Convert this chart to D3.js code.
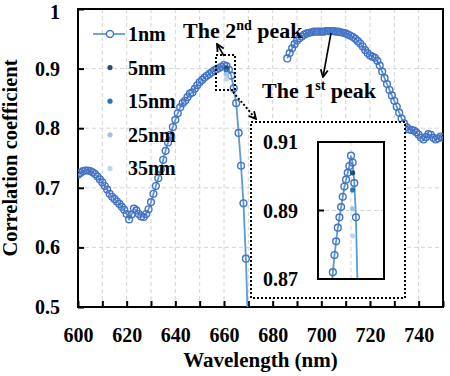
<!DOCTYPE html>
<html>
<head>
<meta charset="utf-8">
<script src="https://cdn.jsdelivr.net/npm/d3@7"></script>
<style>
body { margin: 0; background: #fff; }
text { font-family: "Liberation Serif", "Times New Roman", serif; font-weight: bold; fill: #000; }
</style>
</head>
<body>
<svg width="450" height="376"></svg>
<script>
// 1nm series, 1 nm steps: 600-670 and 686-750 (no data in between)
const leftStart = 600
const leftValues = [0.722, 0.725, 0.728, 0.729, 0.729, 0.728, 0.726, 0.723, 0.719, 0.714,
    0.709, 0.703, 0.697, 0.690, 0.685, 0.681, 0.677, 0.673, 0.668, 0.663,
    0.656, 0.647, 0.655, 0.665, 0.662, 0.656, 0.652, 0.651, 0.656, 0.664,
    0.676, 0.690, 0.703, 0.716, 0.731, 0.747, 0.762, 0.776, 0.789, 0.802,
    0.814, 0.825, 0.835, 0.842, 0.846, 0.852, 0.858, 0.860, 0.866, 0.872,
    0.877, 0.881, 0.885, 0.888, 0.891, 0.894, 0.897, 0.899, 0.901, 0.903,
    0.906, 0.904, 0.898, 0.888, 0.867, 0.842, 0.792, 0.737, 0.674, 0.581,
    0.450]
const rightStart = 686
const rightValues = [0.917, 0.926, 0.934, 0.941, 0.947, 0.951, 0.954, 0.957, 0.959, 0.960,
    0.961, 0.962, 0.962, 0.962, 0.962, 0.962, 0.963, 0.963, 0.963, 0.963,
    0.962, 0.962, 0.961, 0.960, 0.959, 0.957, 0.955, 0.953, 0.950, 0.946,
    0.942, 0.937, 0.931, 0.926, 0.922, 0.920, 0.918, 0.913, 0.905, 0.895,
    0.884, 0.874, 0.864, 0.855, 0.846, 0.836, 0.826, 0.816, 0.808, 0.802,
    0.798, 0.797, 0.796, 0.793, 0.789, 0.784, 0.781, 0.785, 0.790, 0.789,
    0.784, 0.781, 0.783, 0.786, 0.784]

// other resolutions: single 2nd-peak points
const dotSeries = ["5nm", "15nm", "25nm", "35nm"]
const dotWavelength = [661, 661, 661, 661]
const dotValues = [0.901, 0.896, 0.8905, 0.8826]

const xTickValues = [600, 610, 620, 630, 640, 650, 660, 670, 680, 690, 700, 710, 720, 730, 740, 750]
const xTickLabels = [600, 620, 640, 660, 680, 700, 720, 740]
const yTickValues = [0.5, 0.6, 0.7, 0.8, 0.9, 1]
const insetTickLabels = ["0.91", "0.89", "0.87"]
const insetTickValues = [0.91, 0.89, 0.87]

const segments = [
    leftValues.map((v, i) => ({ x: leftStart + i, y: v })),
    rightValues.map((v, i) => ({ x: rightStart + i, y: v }))
]
const dots = dotSeries.map((s, i) => ({ series: s, x: dotWavelength[i], y: dotValues[i] }))

const svg = d3.select("svg")
const dotColor = d3.scaleOrdinal().domain(dotSeries).range(["#1f4e79", "#2e75b6", "#9dc3e6", "#bdd7ee"])
const lineColor = "#5b9bd5"
const circleColor = "#4472c4"

const x = d3.scaleLinear().domain([600, 750]).range([78, 443])
const y = d3.scaleLinear().domain([0.5, 1]).range([307, 9])

const defs = svg.append("defs")
defs.append("clipPath").attr("id", "plotClip")
    .append("rect").attr("x", 78).attr("y", 9).attr("width", 365).attr("height", 298)
defs.append("marker")
    .attr("id", "head")
    .attr("viewBox", "0 0 10 10")
    .attr("refX", 9).attr("refY", 5)
    .attr("markerWidth", 9).attr("markerHeight", 9)
    .attr("markerUnits", "userSpaceOnUse")
    .attr("orient", "auto")
    .append("path")
    .attr("d", "M1,1 L9,5 L1,9")
    .style("fill", "none")
    .style("stroke", "black")
    .style("stroke-width", 2)

// grid
svg.append("g")
    .selectAll("line.vgrid")
    .data(xTickValues.filter(d => d > 600 && d < 750))
    .enter()
    .append("line")
    .attr("class", "vgrid")
    .attr("x1", d => x(d)).attr("x2", d => x(d))
    .attr("y1", y(1)).attr("y2", y(0.5))
    .style("stroke", "#d4d4d4")
    .style("stroke-dasharray", "4,3")

svg.append("g")
    .selectAll("line.hgrid")
    .data(yTickValues.filter(d => d > 0.5 && d < 1))
    .enter()
    .append("line")
    .attr("class", "hgrid")
    .attr("x1", x(600)).attr("x2", x(750))
    .attr("y1", d => y(d)).attr("y2", d => y(d))
    .style("stroke", "#d4d4d4")
    .style("stroke-dasharray", "4,3")

// axes
const xAxis = d3.axisBottom(x)
    .tickValues(xTickValues)
    .tickSizeInner(-6)
    .tickSizeOuter(0)
    .tickPadding(35)
    .tickFormat(d => xTickLabels.includes(d) ? d : "")

svg.append("g")
    .attr("transform", `translate(0, ${y(0.5)})`)
    .call(xAxis)
    .call(g => g.select(".domain").remove())
    .call(g => g.selectAll("line").style("stroke", "black").style("stroke-width", 2))
    .call(g => g.selectAll("text").attr("dy", null).style("font-size", "20px"))

const yAxis = d3.axisLeft(y)
    .tickValues(yTickValues)
    .tickSizeInner(-6)
    .tickSizeOuter(0)
    .tickPadding(18)
    .tickFormat(d3.format(""))

svg.append("g")
    .attr("transform", `translate(${x(600)}, 0)`)
    .call(yAxis)
    .call(g => g.select(".domain").remove())
    .call(g => g.selectAll("line").style("stroke", "black").style("stroke-width", 2))
    .call(g => g.selectAll("text").style("font-size", "20px"))
    .call(g => g.selectAll(".tick").filter(d => d == 1).select("text").attr("dy", "0.45em"))

svg.append("rect")
    .attr("x", x(600)).attr("y", y(1))
    .attr("width", x(750) - x(600)).attr("height", y(0.5) - y(1))
    .style("fill", "none")
    .style("stroke", "black")
    .style("stroke-width", 2)

function drawSeries(g, xs, ys) {
    const line = d3.line()
        .x(d => xs(d.x))
        .y(d => ys(d.y))

    g.selectAll("path.series")
        .data(segments)
        .enter()
        .append("path")
        .attr("class", "series")
        .attr("d", line)
        .style("fill", "none")
        .style("stroke", lineColor)
        .style("stroke-width", 1.8)

    g.selectAll("circle.pt")
        .data(segments.flat())
        .enter()
        .append("circle")
        .attr("class", "pt")
        .attr("cx", d => xs(d.x))
        .attr("cy", d => ys(d.y))
        .attr("r", 3.4)
        .style("fill", "none")
        .style("stroke", circleColor)
        .style("stroke-width", 1.4)

    g.selectAll("circle.dot")
        .data(dots)
        .enter()
        .append("circle")
        .attr("class", "dot")
        .attr("cx", d => xs(d.x))
        .attr("cy", d => ys(d.y))
        .attr("r", 2.6)
        .style("fill", d => dotColor(d.series))
}

drawSeries(svg.append("g").attr("clip-path", "url(#plotClip)"), x, y)

// legend
const legendRows = ["1nm"].concat(dotSeries)
const legend = svg.append("g")
    .selectAll("g.legend")
    .data(legendRows)
    .enter()
    .append("g")
    .attr("class", "legend")
    .attr("transform", (d, i) => `translate(110, ${34 + i * 33.6})`)

legend.filter(d => d == "1nm")
    .append("line")
    .attr("x1", -17).attr("x2", 15)
    .style("stroke", lineColor)
    .style("stroke-width", 1.8)
legend.filter(d => d == "1nm")
    .append("circle")
    .attr("r", 3.5)
    .style("fill", "white")
    .style("stroke", circleColor)
    .style("stroke-width", 1.4)
legend.filter(d => d != "1nm")
    .append("circle")
    .attr("r", 2.6)
    .style("fill", d => dotColor(d))
legend.append("text")
    .attr("x", 18)
    .attr("dy", "0.35em")
    .style("font-size", "20px")
    .text(d => d)

// annotations
function peakLabel(px, py, num, sup) {
    const t = svg.append("text")
        .attr("x", px).attr("y", py)
        .style("font-size", "22px")
    t.append("tspan").text("The " + num)
    t.append("tspan").attr("dy", -8).style("font-size", "14px").text(sup)
    t.append("tspan").attr("dy", 8).text(" peak")
}
peakLabel(183, 38, "2", "nd")
peakLabel(262, 98, "1", "st")

svg.append("line")
    .attr("x1", 331).attr("y1", 33).attr("x2", 323).attr("y2", 77)
    .style("stroke", "black").style("stroke-width", 1.6)
    .attr("marker-end", "url(#head)")

svg.append("line")
    .attr("x1", 224).attr("y1", 56).attr("x2", 217).attr("y2", 44)
    .style("stroke", "black").style("stroke-width", 1.6)
    .attr("marker-end", "url(#head)")

svg.append("rect")
    .attr("x", 216).attr("y", 55).attr("width", 19).attr("height", 35)
    .style("fill", "none")
    .style("stroke", "black").style("stroke-width", 2)
    .style("stroke-dasharray", "2,2")

svg.append("line")
    .attr("x1", 233).attr("y1", 92).attr("x2", 256).attr("y2", 119)
    .style("stroke", "black").style("stroke-width", 2)
    .style("stroke-dasharray", "2,2")
    .attr("marker-end", "url(#head)")

// inset
svg.append("rect")
    .attr("x", 251).attr("y", 122).attr("width", 154).attr("height", 176)
    .style("fill", "white")
    .style("stroke", "black").style("stroke-width", 2)
    .style("stroke-dasharray", "2,2")

const xIn = d3.scaleLinear().domain([640, 680]).range([318, 384])
const yIn = d3.scaleLinear().domain([0.87, 0.91]).range([279, 142])

defs.append("clipPath").attr("id", "insetClip")
    .append("rect").attr("x", 318).attr("y", 142).attr("width", 66).attr("height", 137)

const inset = svg.append("g")
inset.append("line")
    .attr("x1", xIn(660)).attr("x2", xIn(660)).attr("y1", yIn(0.91)).attr("y2", yIn(0.87))
    .style("stroke", "#d4d4d4").style("stroke-dasharray", "4,3")
inset.append("line")
    .attr("x1", xIn(640)).attr("x2", xIn(680)).attr("y1", yIn(0.89)).attr("y2", yIn(0.89))
    .style("stroke", "#d4d4d4").style("stroke-dasharray", "4,3")

drawSeries(inset.append("g").attr("clip-path", "url(#insetClip)"), xIn, yIn)

inset.append("line")
    .attr("x1", xIn(640)).attr("x2", xIn(640) + 6).attr("y1", yIn(0.89)).attr("y2", yIn(0.89))
    .style("stroke", "black").style("stroke-width", 2)
inset.append("rect")
    .attr("x", xIn(640)).attr("y", yIn(0.91))
    .attr("width", xIn(680) - xIn(640)).attr("height", yIn(0.87) - yIn(0.91))
    .style("fill", "none")
    .style("stroke", "black").style("stroke-width", 2)

inset.selectAll("text.itick")
    .data(insetTickValues)
    .enter()
    .append("text")
    .attr("class", "itick")
    .attr("x", 298)
    .attr("y", d => yIn(d))
    .attr("dy", "0.35em")
    .style("text-anchor", "end")
    .style("font-size", "20px")
    .text((d, i) => insetTickLabels[i])

// axis titles
svg.append("text")
    .attr("x", (x(600) + x(750)) / 2)
    .attr("y", 367)
    .style("text-anchor", "middle")
    .style("font-size", "21px")
    .text("Wavelength (nm)")

svg.append("text")
    .attr("transform", `translate(17, ${(y(0.5) + y(1)) / 2}) rotate(-90)`)
    .style("text-anchor", "middle")
    .style("font-size", "20.5px")
    .text("Correlation coefficient")
</script>
</body>
</html>
